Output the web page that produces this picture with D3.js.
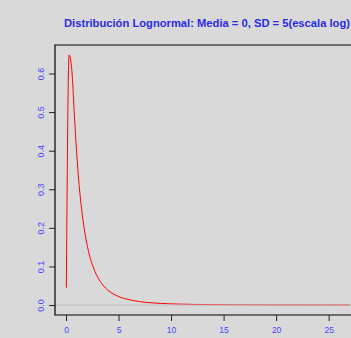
<!DOCTYPE html>
<html><head><meta charset="utf-8">
<script src="https://cdn.jsdelivr.net/npm/d3@7"></script>
<style>html,body{margin:0;padding:0;background:#d9d9d9;overflow:hidden}</style>
</head><body>
<script>
const title = "Distribución Lognormal: Media = 0, SD = 5(escala log)";
const xValues = [0.03, 0.29, 0.55, 0.8, 1.0, 1.25, 1.5, 1.75, 2.0, 2.25, 2.5, 2.75, 3.0, 3.5, 4.0, 4.5, 5.0, 6.0, 7.0, 8.0, 9.0, 10, 12, 14, 16, 18, 20, 22, 24, 27];
const yValues = [0.045, 0.648, 0.61, 0.49, 0.40, 0.31, 0.245, 0.195, 0.157, 0.127, 0.105, 0.087, 0.073, 0.052, 0.038, 0.029, 0.022, 0.014, 0.009, 0.006, 0.0043, 0.003, 0.0017, 0.001, 0.0006, 0.0004, 0.0003, 0.0002, 0.00015, 0.0001];
const xTicks = [0, 5, 10, 15, 20, 25];
const yTicks = [0, 0.1, 0.2, 0.3, 0.4, 0.5, 0.6];

const W = 351, H = 338;
const plot = {left: 55, right: 361, top: 45, bottom: 315};
const svg = d3.select("body").append("svg").attr("width", W).attr("height", H);

function rExt(ext) { const r = ext[1] - ext[0]; return [ext[0] - 0.04 * r, ext[1] + 0.04 * r]; }
const x = d3.scaleLinear().domain(rExt(d3.extent(xValues))).range([plot.left, plot.right]);
const y = d3.scaleLinear().domain(rExt(d3.extent(yValues))).range([plot.bottom, plot.top]);

const data = xValues.map((v, i) => [v, yValues[i]]);

svg.append("clipPath").attr("id", "c").append("rect")
  .attr("x", plot.left).attr("y", plot.top).attr("width", plot.right - plot.left).attr("height", plot.bottom - plot.top);

svg.append("path").datum(data).attr("clip-path", "url(#c)")
  .attr("fill", "none").attr("stroke", "#ff0000").attr("stroke-width", 1)
  .attr("d", d3.line().x(d => x(d[0])).y(d => y(d[1])).curve(d3.curveMonotoneX));

svg.append("line").attr("x1", plot.left).attr("x2", W).attr("y1", y(0)).attr("y2", y(0))
  .attr("stroke", "#bebebe").attr("stroke-width", 1);

// box (left, top, bottom)
svg.append("path").attr("fill", "none").attr("stroke", "#000").attr("stroke-width", 1.2)
  .attr("d", `M${W + 5},${plot.top}H${plot.left}V${plot.bottom}H${W + 5}`);

const fontF = "'Liberation Sans', Arial, Helvetica, sans-serif";
const tickCol = "#4646ff";

const xAxis = svg.append("g").attr("transform", `translate(0,${plot.bottom})`)
  .call(d3.axisBottom(x).tickValues(xTicks).tickSize(6).tickPadding(6).tickFormat(d3.format("d")));
xAxis.select(".domain").remove();
xAxis.selectAll("line").attr("stroke", "#222");
xAxis.selectAll("text").attr("fill", tickCol).style("font-family", fontF).style("font-size", "8.5px");

const yAxis = svg.append("g").attr("transform", `translate(${plot.left},0)`)
  .call(d3.axisLeft(y).tickValues(yTicks).tickSize(6).tickFormat(d3.format(".1f")));
yAxis.select(".domain").remove();
yAxis.selectAll("line").attr("stroke", "#222");
yAxis.selectAll("text").attr("fill", tickCol).style("font-family", fontF).style("font-size", "9px")
  .attr("text-anchor", "middle").attr("x", 0).attr("dy", null)
  .attr("transform", "translate(-14,0) rotate(-90)").attr("dominant-baseline", "central");

svg.append("text").attr("x", 207).attr("y", 27).attr("text-anchor", "middle")
  .attr("fill", "#2a2ae6").style("font-family", fontF).style("font-weight", "bold").style("font-size", "11.2px")
  .text(title);
</script>
</body></html>
